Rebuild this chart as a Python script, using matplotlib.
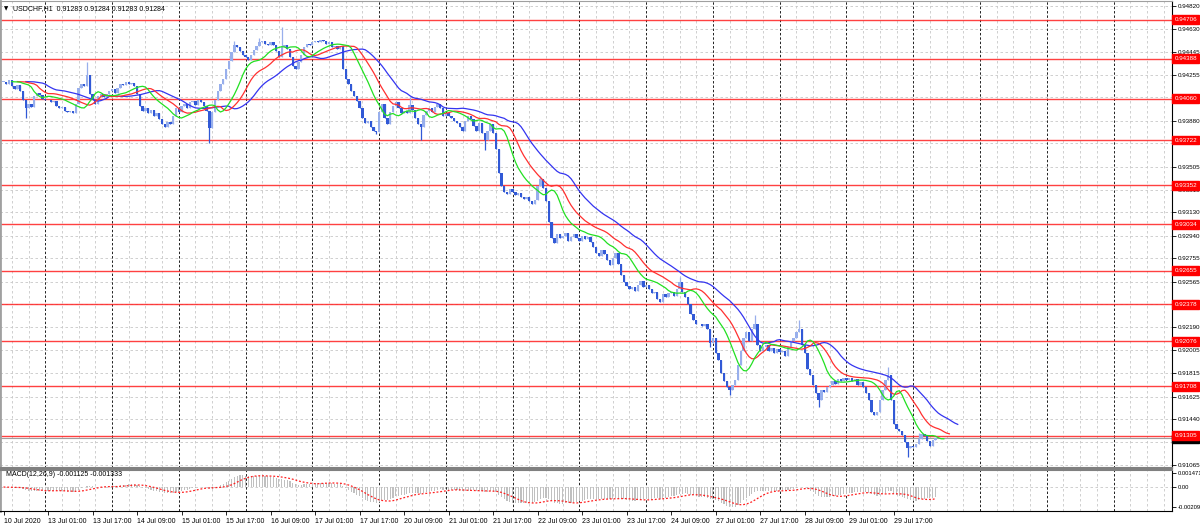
import numpy as np
import pandas as pd
import matplotlib.pyplot as plt

plt.rcParams['font.family'] = ['Liberation Sans', 'DejaVu Sans']

W, H = 1200, 527

# USDCHF H1 closes (x 1e-5), 10 Jul 09:00 -> 30 Jul 08:00
closes = [
    94200, 94180, 94210, 94160, 94140, 94170, 94120, 94050, 93980, 94020, 93990, 94080, 94110, 94090, 94060, 94050,
    94050, 94030, 94040, 94000, 93980, 93990, 93960, 93950, 93960, 93940, 94020, 94150, 94180, 94160, 94250, 94100,
    94050, 94020, 94080, 94100, 94070, 94100, 94120, 94140, 94110, 94150, 94180, 94170, 94200, 94180, 94190, 94160,
    94100, 94000, 93960, 93980, 93940, 93970, 93920, 93940, 93890, 93850, 93830, 93870, 93850, 93920, 93980, 93950,
    94000, 94020, 93980, 94030, 94040, 94010, 94050, 94030, 94000, 93960, 93820, 93950, 94050, 94120, 94180, 94220,
    94300, 94370, 94440, 94500, 94480, 94450, 94420, 94400, 94380, 94420, 94460, 94490, 94520, 94530, 94510, 94500,
    94520, 94500, 94450, 94400, 94480, 94500, 94470, 94400, 94330, 94300, 94360, 94420, 94480, 94510, 94500, 94520,
    94530, 94520, 94540, 94530, 94510, 94520, 94480, 94490, 94470, 94490, 94300, 94220, 94180, 94120, 94080, 94040,
    93980, 93900, 93860, 93880, 93830, 93800, 93790, 93950, 94020, 93900, 93850, 93950, 94000, 94030, 93980, 93940,
    93960, 93940, 94010, 93970, 93900, 93850, 93830, 93930, 93960, 93980, 93950, 93990, 94020, 93980, 93920, 93940,
    93920, 93900, 93880, 93860, 93830, 93800, 93880, 93920, 93890, 93840, 93800, 93860, 93780, 93720, 93800, 93850,
    93780, 93650, 93450, 93350, 93300, 93280, 93320, 93300, 93270, 93290, 93260, 93240, 93260, 93220, 93200, 93230,
    93350, 93400, 93330, 93220, 93050, 92920, 92880, 92950, 92920, 92940, 92960, 92900, 92930, 92950, 92920, 92900,
    92940, 92910, 92930, 92890, 92850, 92800, 92770, 92820, 92790, 92740, 92700, 92760, 92800, 92710, 92620, 92560,
    92530, 92500, 92520, 92490, 92540, 92570, 92520, 92540, 92500, 92470, 92480, 92420, 92400, 92460, 92440, 92470,
    92480, 92450, 92500, 92560, 92480, 92440, 92380, 92300, 92250, 92220, 92220, 92200, 92220, 92180, 92060, 92100,
    91980, 91920, 91820, 91750, 91700, 91680, 91720, 91760, 91880, 92000, 92100, 92150, 92080, 92180, 92220, 92050,
    92000, 92030, 92050, 92000, 92020, 91980, 92010, 91990, 92000, 91960, 92030, 92080, 92100, 92150, 92180, 92050,
    91980, 91850, 91800, 91720, 91650, 91600, 91680, 91660, 91700, 91720, 91750, 91730, 91770, 91750, 91780, 91760,
    91780, 91750, 91770, 91720, 91740, 91700, 91650, 91600, 91500, 91470, 91500, 91600, 91680, 91760, 91800, 91600,
    91400, 91360, 91340, 91310, 91250, 91200, 91220, 91210, 91240, 91280, 91320, 91300, 91260, 91220, 91270, 91284,
]
# wick extremes that stick out of the bodies (bar index -> price x 1e-5)
spike_highs = {30: 94360, 83: 94530, 92: 94560, 100: 94650, 146: 94070, 193: 93430,
               243: 92600, 270: 92290, 286: 92250, 318: 91870, 329: 91330}
spike_lows = {8: 93900, 74: 93700, 134: 93770, 150: 93720, 173: 93640, 254: 92030,
              261: 91640, 293: 91540, 325: 91130}

levels = [0.94706, 0.94388, 0.94060, 0.93722, 0.93352, 0.93034, 0.92655,
          0.92378, 0.92076, 0.91708, 0.91305]
price_ticks = [0.94820, 0.94630, 0.94445, 0.94255, 0.94070, 0.93880, 0.93695,
               0.93505, 0.93315, 0.93130, 0.92940, 0.92755, 0.92565, 0.92380,
               0.92190, 0.92005, 0.91815, 0.91625, 0.91440, 0.91250, 0.91065]
# these two sit under the red level tags in the terminal and are not visible
hidden_ticks = [0.94070, 0.92380]
time_labels = ["10 Jul 2020", "13 Jul 01:00", "13 Jul 17:00", "14 Jul 09:00",
               "15 Jul 01:00", "15 Jul 17:00", "16 Jul 09:00", "17 Jul 01:00",
               "17 Jul 17:00", "20 Jul 09:00", "21 Jul 01:00", "21 Jul 17:00",
               "22 Jul 09:00", "23 Jul 01:00", "23 Jul 17:00", "24 Jul 09:00",
               "27 Jul 01:00", "27 Jul 17:00", "28 Jul 09:00", "29 Jul 01:00",
               "29 Jul 17:00"]
bid = 0.91284

close = np.array(closes) / 1e5
n = len(close)
idx = np.arange(n)
openp = np.r_[close[0], close[:-1]]
high = np.maximum(openp, close)
low = np.minimum(openp, close)
for i, v in spike_highs.items():
    high[i] = max(high[i], v / 1e5)
for i, v in spike_lows.items():
    low[i] = min(low[i], v / 1e5)


def smma(x, period):
    out = np.empty_like(x)
    out[0] = x[0]
    for i in range(1, len(x)):
        out[i] = (out[i - 1] * (period - 1) + x[i]) / period
    return out


median = (high + low) / 2
jaw, teeth, lips = smma(median, 13), smma(median, 8), smma(median, 5)

s = pd.Series(close)
macd = (s.ewm(span=12, adjust=False).mean() - s.ewm(span=26, adjust=False).mean()).values
signal = pd.Series(macd).rolling(9, min_periods=1).mean().values

# pixel layout
X0, DX, XR = 3.5, 2.782, 1172
xlim = ((0 - X0) / DX, (XR - X0) / DX)


def box(x0, y0, x1, y1):
    return [x0 / W, 1 - y1 / H, (x1 - x0) / W, (y1 - y0) / H]


fig = plt.figure(figsize=(W / 100, H / 100), dpi=100)
fig.patch.set_facecolor('white')
ax = fig.add_axes(box(0, 1, XR, 468))
ax2 = fig.add_axes(box(0, 470, XR, 511))

grid_kw = dict(color='#c8c8c8', lw=0.6, ls=(0, (3, 3)), zorder=0)
sep_kw = dict(color='#202020', lw=0.7, ls=(0, (2.5, 2)), zorder=0.5)

# vertical grid every 6 hours, dark separator at each day start
day_starts = [15, 39, 63, 87, 111, 135, 159, 183, 207, 231, 255, 279, 303, 327, 351, 375, 399]
grid_bars = [3, 9]
for d in day_starts:
    grid_bars += [d + 6, d + 12, d + 18]
for a in (ax, ax2):
    for d in day_starts:
        a.axvline(d, **sep_kw)
    for g in grid_bars:
        a.axvline(g, **grid_kw)
    a.set_xlim(*xlim)

# main panel
ax.set_ylim(0.910405, 0.948589)
for p in price_ticks:
    ax.axhline(p, **grid_kw)
for lv in levels:
    ax.axhline(lv, color='#ff2020', lw=1.0, alpha=0.85, zorder=1)
ax.axhline(bid, color='#a0a0a0', lw=0.8, zorder=1)

bull = close >= openp
up_c, dn_c = '#98afec', '#3159d6'
cols = np.where(bull, up_c, dn_c)
ax.vlines(idx, low, high, colors=cols, lw=0.9, zorder=2)
body_h = np.maximum(np.abs(close - openp), 0.000015)
ax.bar(idx, body_h, bottom=np.minimum(openp, close), width=0.85, color=cols, lw=0, zorder=3)

ax.plot(idx + 8, jaw, color='#3434f0', lw=0.9, zorder=4)
ax.plot(idx + 5, teeth, color='#ff3030', lw=0.9, zorder=4)
ax.plot(idx + 3, lips, color='#22e022', lw=0.9, zorder=4)

ax.yaxis.tick_right()
ax.set_yticks(price_ticks)
ax.set_yticklabels(["" if p in hidden_ticks else f"{p:.5f}" for p in price_ticks])
ax.tick_params(axis='y', length=3, width=0.6, pad=1, labelsize=4.5)
ax.set_xticks([])

lbl_kw = dict(transform=ax.get_yaxis_transform(), ha='left', va='center', fontsize=4.5,
              color='white', clip_on=False, zorder=10)
ax.text(1.002, bid - 0.00006, f"{bid:.5f}",
        bbox=dict(boxstyle='square,pad=0.3', fc='black', ec='black'), **lbl_kw)
for lv in levels:
    ax.text(1.002, lv, f"{lv:.5f}",
            bbox=dict(boxstyle='square,pad=0.3', fc='#ff0000', ec='#ff0000'), **lbl_kw)

ax.text(4 / XR, 1 - 8 / 467, "\u25bc", transform=ax.transAxes, fontsize=4,
        va='center', ha='left', family=['DejaVu Sans'])
ax.text(13 / XR, 1 - 8 / 467, "USDCHF,H1  0.91283 0.91284 0.91283 0.91284",
        transform=ax.transAxes, fontsize=5, va='center', ha='left')

# MACD panel
ax2.set_ylim(-0.002509, 0.001785)
ax2.axhline(0, **grid_kw)
ax2.bar(idx, macd, width=0.4, color='#c0c0c0', lw=0, zorder=2)
ax2.plot(idx, signal, color='#ff2020', lw=0.9, ls=(0, (1.5, 1.5)), zorder=3)
ax2.yaxis.tick_right()
ax2.set_yticks([0.001471, 0.0, -0.00209])
ax2.set_yticklabels(["0.001471", "0.00", "-0.00209"])
ax2.tick_params(axis='y', length=3, width=0.6, pad=0.8, labelsize=4.2)
ax2.set_xticks(np.arange(len(time_labels)) * 16)
ax2.set_xticklabels(time_labels)
ax2.tick_params(axis='x', length=3, width=0.6, pad=2, labelsize=5)
for t in ax2.get_xticklabels():
    t.set_ha('left')
ax2.text(6 / XR, 0.88, "MACD(12,26,9) -0.001125 -0.001333", transform=ax2.transAxes,
         fontsize=5, va='center', ha='left')

for a in (ax, ax2):
    a.spines['left'].set_color('#a0a0a0')
    a.spines['left'].set_linewidth(2)
    a.spines['right'].set_color('black')
    a.spines['right'].set_linewidth(0.8)
ax.spines['top'].set_color('#a0a0a0')
ax.spines['bottom'].set_color('#808080')
ax.spines['bottom'].set_linewidth(1.5)
ax2.spines['top'].set_color('#808080')
ax2.spines['top'].set_linewidth(1.5)
ax2.spines['bottom'].set_color('black')
ax2.spines['bottom'].set_linewidth(0.8)

fig.savefig("out.png", dpi=100)
